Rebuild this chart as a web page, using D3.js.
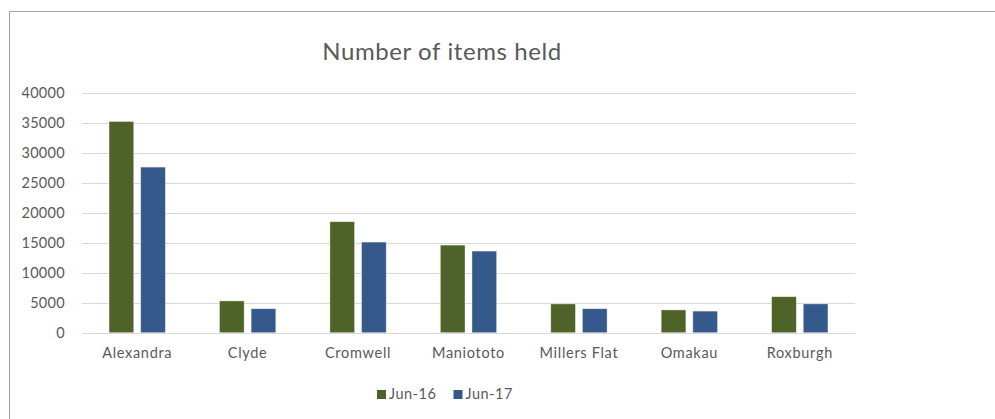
<!DOCTYPE html>
<html>
<head>
<meta charset="utf-8">
<script src="https://cdn.jsdelivr.net/npm/d3@7"></script>
<style>
  body { margin: 0; background: #fff; }
  text { font-family: Lato, "Open Sans", sans-serif; fill: #595959; }
</style>
</head>
<body>
<div id="chart"></div>
<script>
// data
var categories = ["Alexandra", "Clyde", "Cromwell", "Maniototo", "Millers Flat", "Omakau", "Roxburgh"];
var seriesNames = ["Jun-16", "Jun-17"];
var jun16 = [35200, 5300, 18500, 14600, 4800, 3800, 6000];
var jun17 = [27600, 4000, 15100, 13600, 4000, 3600, 4800];
var yTicks = [0, 5000, 10000, 15000, 20000, 25000, 30000, 35000, 40000];
var colors = ["#4f6228", "#34598a"];

var width = 995,
    height = 419;

var svg = d3.select("#chart").append("svg")
    .attr("width", width)
    .attr("height", height);

// chart frame (only left and top edges visible)
svg.append("path")
    .attr("d", "M9.5,419V11.5H995")
    .attr("fill", "none")
    .style("stroke", "#a0a0a0")
    .style("stroke-width", "1px");

svg.append("text")
    .attr("x", 442)
    .attr("y", 60)
    .attr("text-anchor", "middle")
    .style("font-size", "24px")
    .style("letter-spacing", "0.6px")
    .text("Number of items held");

var plotLeft = 82, plotRight = 855, plotTop = 92.7, plotBottom = 332.7;

var x0 = d3.scaleBand()
    .domain(categories)
    .range([plotLeft, plotRight])
    .paddingInner(0.49)
    .paddingOuter(0.245);

var x1 = d3.scaleBand()
    .domain(seriesNames)
    .range([0, x0.bandwidth()])
    .paddingInner(0.22);

var y = d3.scaleLinear()
    .domain([0, 40000])
    .range([plotBottom, plotTop]);

// gridlines
svg.append("g")
    .selectAll("line")
    .data(yTicks)
    .enter().append("line")
    .attr("x1", plotLeft)
    .attr("x2", plotRight)
    .attr("y1", function(d) { return Math.round(y(d)) + 0.5; })
    .attr("y2", function(d) { return Math.round(y(d)) + 0.5; })
    .style("stroke", "#d9d9d9")
    .style("stroke-width", "1px");

// y axis labels
var yAxis = d3.axisLeft(y).tickValues(yTicks).tickSize(0).tickPadding(0).tickFormat(d3.format("d"));
var ga = svg.append("g")
    .attr("transform", "translate(65,0)")
    .call(yAxis);
ga.select(".domain").remove();
ga.selectAll("text")
    .style("font-family", "Lato, sans-serif")
    .style("font-size", "14.5px")
    .style("letter-spacing", "0.3px")
    .style("fill", "#595959");

var rows = categories.map(function(c, i) {
  return { name: c, values: [jun16[i], jun17[i]] };
});

var groups = svg.selectAll(".grp")
    .data(rows)
    .enter().append("g")
    .attr("class", "grp")
    .attr("transform", function(d) { return "translate(" + x0(d.name) + ",0)"; });

groups.selectAll("rect")
    .data(function(d) { return d.values.map(function(v, k) { return { s: seriesNames[k], v: v, k: k }; }); })
    .enter().append("rect")
    .attr("x", function(d) { return x1(d.s); })
    .attr("y", function(d) { return y(d.v); })
    .attr("width", x1.bandwidth())
    .attr("height", function(d) { return plotBottom - y(d.v); })
    .attr("fill", function(d) { return colors[d.k]; })
    .style("stroke", "#ffffff")
    .style("stroke-opacity", 0.5)
    .style("stroke-width", "0.75px");

// category labels
var xAxis = d3.axisBottom(x0).tickSize(0).tickPadding(0);
var gx = svg.append("g")
    .attr("transform", "translate(0,348)")
    .call(xAxis);
gx.select(".domain").remove();
gx.selectAll("text")
    .attr("dy", "0.71em")
    .style("font-family", "Lato, sans-serif")
    .style("font-size", "14.5px")
    .style("letter-spacing", "0.7px")
    .style("fill", "#595959");

// legend
var legendX = [377, 453.5];
var lg = svg.selectAll(".leg")
    .data(seriesNames)
    .enter().append("g")
    .attr("class", "leg")
    .attr("transform", function(d, i) { return "translate(" + legendX[i] + ",390)"; });
lg.append("rect")
    .attr("width", 9)
    .attr("height", 9)
    .attr("fill", function(d, i) { return colors[i]; });
lg.append("text")
    .attr("x", 12)
    .attr("y", 8.5)
    .style("font-size", "14.5px")
    .style("letter-spacing", "0.5px")
    .text(function(d) { return d; });
</script>
</body>
</html>
